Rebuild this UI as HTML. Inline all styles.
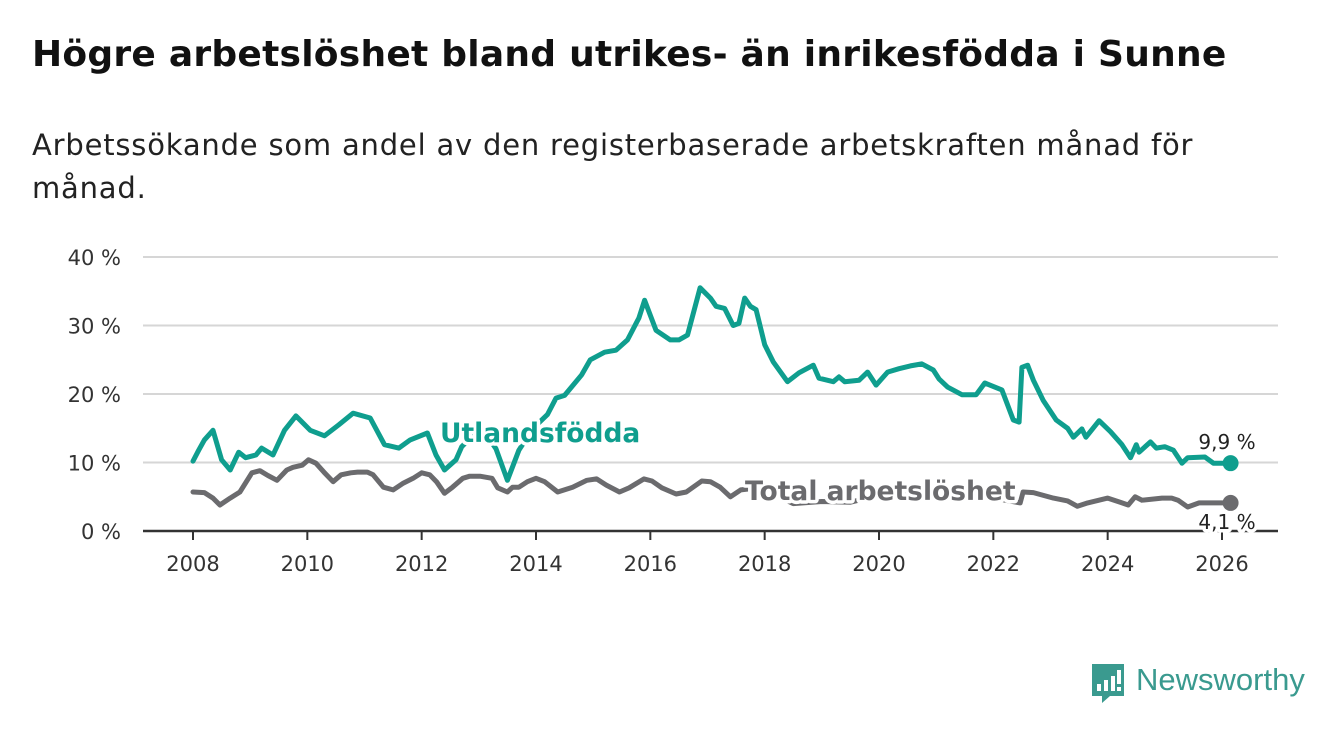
<!DOCTYPE html>
<html><head><meta charset="utf-8">
<style>
body{margin:0;width:1340px;height:734px;background:#fff;font-family:"DejaVu Sans",sans-serif;overflow:hidden;position:relative}
h1{position:absolute;left:32px;top:34px;margin:0;font-size:36px;font-weight:bold;color:#111;white-space:nowrap;letter-spacing:0.25px}
.sub{position:absolute;left:32px;top:124px;margin:0;font-size:29px;line-height:43px;color:#222;width:1250px;letter-spacing:0.8px}
svg{position:absolute;left:0;top:0}
</style></head>
<body>
<h1>Högre arbetslöshet bland utrikes- än inrikesfödda i Sunne</h1>
<p class="sub">Arbetssökande som andel av den registerbaserade arbetskraften månad för<br>månad.</p>
<svg id="chart" width="1340" height="734"></svg>
<script>
const yTicks=[0,10,20,30,40];
const yTickLabels=["0 %","10 %","20 %","30 %","40 %"];
const xTicks=[2008,2010,2012,2014,2016,2018,2020,2022,2024,2026];
const utlYears=[2008,2008.1,2008.2,2008.35,2008.5,2008.65,2008.8,2008.92,2009.1,2009.2,2009.4,2009.6,2009.8,2010.05,2010.3,2010.55,2010.8,2011.1,2011.35,2011.6,2011.8,2012.1,2012.25,2012.4,2012.6,2012.7,2012.9,2013.1,2013.3,2013.5,2013.7,2013.95,2014.2,2014.35,2014.5,2014.8,2014.95,2015.2,2015.4,2015.6,2015.8,2015.9,2016.1,2016.35,2016.5,2016.65,2016.87,2017.05,2017.15,2017.3,2017.45,2017.55,2017.65,2017.75,2017.85,2018,2018.15,2018.4,2018.6,2018.85,2018.95,2019.2,2019.3,2019.4,2019.65,2019.8,2019.95,2020.15,2020.35,2020.55,2020.75,2020.95,2021.05,2021.2,2021.45,2021.7,2021.85,2022.15,2022.35,2022.45,2022.5,2022.6,2022.7,2022.87,2023.1,2023.3,2023.4,2023.55,2023.62,2023.85,2024.05,2024.25,2024.4,2024.5,2024.55,2024.75,2024.85,2025.0,2025.15,2025.3,2025.4,2025.7,2025.85,2026.15];
const utlValues=[10.2,11.8,13.3,14.7,10.4,8.9,11.5,10.7,11.1,12.1,11.1,14.7,16.8,14.7,13.9,15.5,17.2,16.5,12.6,12.1,13.3,14.3,11.1,8.9,10.4,12.3,14,14.5,12,7.4,11.8,15,17,19.4,19.8,22.8,25,26.1,26.4,27.9,31.1,33.7,29.3,27.9,27.9,28.6,35.5,34,32.8,32.5,30,30.3,34,32.8,32.3,27.2,24.7,21.8,23.1,24.2,22.3,21.8,22.5,21.8,22,23.2,21.3,23.2,23.7,24.1,24.4,23.5,22.2,21,19.9,19.9,21.6,20.6,16.2,15.9,23.9,24.2,22,19.1,16.2,15,13.7,14.9,13.7,16.1,14.5,12.6,10.7,12.6,11.5,13,12.1,12.3,11.8,9.9,10.7,10.8,9.9,9.9];
const totYears=[2008,2008.2,2008.35,2008.47,2008.65,2008.82,2009.03,2009.17,2009.31,2009.47,2009.64,2009.75,2009.91,2010.02,2010.15,2010.29,2010.45,2010.59,2010.76,2010.88,2011.05,2011.15,2011.33,2011.5,2011.68,2011.85,2012.0,2012.14,2012.26,2012.4,2012.54,2012.72,2012.84,2013.02,2013.23,2013.33,2013.5,2013.59,2013.7,2013.85,2014.0,2014.15,2014.38,2014.64,2014.89,2015.06,2015.23,2015.46,2015.63,2015.89,2016.03,2016.2,2016.45,2016.63,2016.9,2017.05,2017.22,2017.4,2017.58,2017.9,2018.5,2019.0,2019.5,2020.3,2020.8,2021.4,2022.0,2022.47,2022.52,2022.7,2023.05,2023.3,2023.47,2023.65,2024.0,2024.22,2024.36,2024.48,2024.6,2024.95,2025.12,2025.23,2025.4,2025.6,2025.95,2026.15];
const totValues=[5.7,5.6,4.8,3.8,4.8,5.7,8.5,8.8,8.1,7.4,8.9,9.3,9.6,10.4,9.9,8.6,7.2,8.2,8.5,8.6,8.6,8.2,6.4,6,7,7.7,8.5,8.2,7.2,5.5,6.4,7.7,8,8,7.7,6.3,5.7,6.4,6.4,7.2,7.7,7.2,5.7,6.4,7.4,7.6,6.7,5.7,6.3,7.6,7.3,6.3,5.4,5.7,7.3,7.2,6.4,5,6,6.3,4,4.3,4.2,5.8,5.5,4.8,4.8,4.1,5.7,5.6,4.8,4.4,3.6,4.1,4.8,4.2,3.8,5,4.5,4.8,4.8,4.5,3.5,4.1,4.1,4.1];

const NS="http://www.w3.org/2000/svg";
const svg=document.getElementById('chart');
const FONT='DejaVu Sans, sans-serif';
const x0=193,x1=1222,yb=531,yt=257;
function xs(y){return x0+(y-2008)/(2026-2008)*(x1-x0);}
function ys(v){return yb-v/40*(yb-yt);}
function mk(tag,attrs,parent){const e=document.createElementNS(NS,tag);for(const k in attrs)e.setAttribute(k,attrs[k]);(parent||svg).appendChild(e);return e;}
yTicks.forEach((t,i)=>{
  if(t>0){const g=mk('line',{x1:143,x2:1278,y1:ys(t),y2:ys(t),stroke:'#d6d6d6','stroke-width':2});
  
  }
  const l=mk('text',{x:121,y:ys(t)+8,'text-anchor':'end','font-size':21,fill:'#333','font-family':FONT});
  l.textContent=yTickLabels[i];
  
  
});
xTicks.forEach(t=>{
  const tk=mk('line',{x1:xs(t),x2:xs(t),y1:yb,y2:yb+9,stroke:'#333','stroke-width':2});
  
  
  const l=mk('text',{x:xs(t),y:yb+40,'text-anchor':'middle','font-size':21,fill:'#333','font-family':FONT});
  l.textContent=t;
  
  
});
function line(xsArr,vArr,col,name){
  const d=xsArr.map((y,i)=>(i?'L':'M')+xs(y).toFixed(1)+','+ys(vArr[i]).toFixed(1)).join('');
  const p=mk('path',{d:d,fill:'none',stroke:col,'stroke-width':5,'stroke-linejoin':'round','stroke-linecap':'round'});
  
  
  const n=xsArr.length-1;
  const c=mk('circle',{cx:xs(xsArr[n]),cy:ys(vArr[n]),r:8,fill:col});
  
  
}
line(totYears,totValues,'#6b6b6e','total-line');
line(utlYears,utlValues,'#0f9e8e','utlandsfodda-line');
const ax=mk('line',{x1:143,x2:1278,y1:yb,y2:yb,stroke:'#333','stroke-width':2.5});


function lbl(txt,x,y,col,size,bold,anchor,name){
  const t=mk('text',{x:x,y:y,fill:col,'font-size':size,'font-weight':bold?'bold':'normal','text-anchor':anchor||'start',stroke:'#fff','stroke-width':7,'paint-order':'stroke','stroke-linejoin':'round','font-family':FONT});
  t.textContent=txt;
  
  
}
lbl('Utlandsfödda',440,442,'#0f9e8e',26.5,true,'start','utlandsfodda-label');
lbl('Total arbetslöshet',745,500,'#6b6b6e',26.5,true,'start','total-label');
lbl('9,9 %',1227,449,'#222',20,false,'middle','last-value-utlandsfodda');
lbl('4,1 %',1227,529,'#222',20,false,'middle','last-value-total');
</script>
<svg width="1340" height="734" style="position:absolute;left:0;top:0">
<path d="M1092 664 h32 v32 h-14 l-8 7 v-7 h-10 z" fill="#3a9a8f"/>
<rect x="1097" y="684" width="4" height="7" fill="#fff"/><rect x="1104" y="680" width="4" height="11" fill="#fff"/><rect x="1111" y="676" width="4" height="15" fill="#fff"/><rect x="1117" y="670" width="4" height="14" fill="#fff"/><rect x="1117" y="687" width="4" height="4" fill="#fff"/>
<text x="1136" y="690" font-size="31" fill="#3a9a8f" font-family="Liberation Sans, sans-serif">Newsworthy</text>
</svg>
</body></html>
